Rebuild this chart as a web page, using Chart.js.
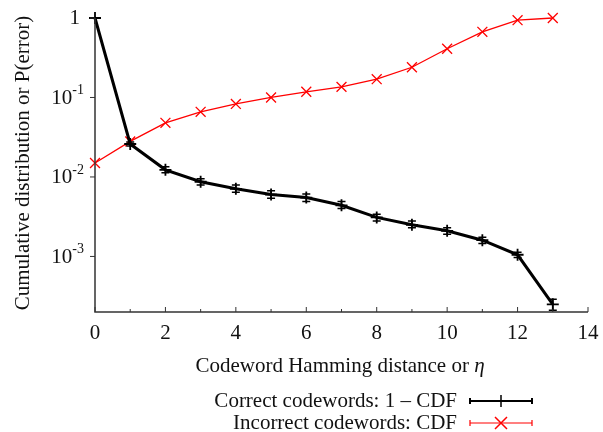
<!DOCTYPE html>
<html>
<head>
<meta charset="utf-8">
<script src="https://cdn.jsdelivr.net/npm/chart.js@4/dist/chart.umd.min.js"></script>
<style>
  html, body { margin: 0; padding: 0; background: #fff; }
  canvas { display: block; }
</style>
</head>
<body>
<canvas id="myChart" width="603" height="432"></canvas>
<script>
const distances = [0, 1, 2, 3, 4, 5, 6, 7, 8, 9, 10, 11, 12, 13];
// correct codewords: 1 - CDF, with error bar ends
const correct_vals = [1, 0.026, 0.0123, 0.0087, 0.0071, 0.006, 0.0055, 0.0044, 0.0031, 0.0025, 0.0021, 0.0016, 0.00105, 0.00025];
const correct_low = [1, 0.0245, 0.0113, 0.0079, 0.0064, 0.0054, 0.0049, 0.0040, 0.0028, 0.0023, 0.0019, 0.00145, 0.00097, 0.00021];
const correct_high = [1, 0.0275, 0.0134, 0.0095, 0.0079, 0.0067, 0.0061, 0.0049, 0.0034, 0.0028, 0.0023, 0.00175, 0.00113, 0.00029];
// incorrect codewords: CDF
const incorrect_vals = [0.015, 0.028, 0.048, 0.066, 0.083, 0.1, 0.118, 0.136, 0.17, 0.24, 0.41, 0.67, 0.94, 1.0];

const x_ticks = [0, 2, 4, 6, 8, 10, 12, 14];
const y_ticks = [1, 0.1, 0.01, 0.001];
const y_tick_base = ['1', '10', '10', '10'];
const y_tick_exp = ['', '-1', '-2', '-3'];

const legend_labels = ['Correct codewords: 1 \u2013 CDF', 'Incorrect codewords: CDF'];

const serif = '"Liberation Serif", "DejaVu Serif", serif';
const font_main = '21px ' + serif;
const axis_color = '#333';

const toPoints = (vals) => distances.map((d, i) => ({ x: d, y: vals[i] }));

// error bars for the black series
const errorBars = {
  id: 'errorBars',
  afterDatasetsDraw(chart) {
    const { ctx, scales: { x, y } } = chart;
    ctx.save();
    ctx.strokeStyle = '#000';
    ctx.lineWidth = 1.5;
    distances.forEach((d, i) => {
      if (correct_low[i] === correct_high[i]) return;
      const px = x.getPixelForValue(d);
      const lo = y.getPixelForValue(correct_low[i]);
      const hi = y.getPixelForValue(correct_high[i]);
      ctx.beginPath();
      ctx.moveTo(px, lo); ctx.lineTo(px, hi);
      ctx.moveTo(px - 4, lo); ctx.lineTo(px + 4, lo);
      ctx.moveTo(px - 4, hi); ctx.lineTo(px + 4, hi);
      ctx.stroke();
    });
    ctx.restore();
  }
};

// axes, tick labels, titles and legend
const decorations = {
  id: 'decorations',
  afterDraw(chart) {
    const { ctx, chartArea: a, scales: { x, y } } = chart;
    ctx.save();

    // axis lines
    ctx.strokeStyle = axis_color;
    ctx.lineWidth = 1.5;
    ctx.beginPath();
    ctx.moveTo(a.left, a.top);
    ctx.lineTo(a.left, a.bottom);
    ctx.lineTo(a.right, a.bottom);
    ctx.stroke();

    // x ticks pointing in
    ctx.lineWidth = 1;
    for (let v = 0; v <= 14; v++) {
      const px = x.getPixelForValue(v);
      const len = v % 2 === 0 ? 5 : 3;
      ctx.beginPath();
      ctx.moveTo(px, a.bottom);
      ctx.lineTo(px, a.bottom - len);
      ctx.stroke();
    }
    // y ticks pointing out
    y_ticks.forEach(v => {
      const py = y.getPixelForValue(v);
      ctx.beginPath();
      ctx.moveTo(a.left - 5, py);
      ctx.lineTo(a.left, py);
      ctx.stroke();
    });

    ctx.fillStyle = '#111';
    // x tick labels
    ctx.font = font_main;
    ctx.textAlign = 'center';
    ctx.textBaseline = 'middle';
    x_ticks.forEach(v => ctx.fillText(String(v), x.getPixelForValue(v), 333));

    // y tick labels with superscripts
    y_ticks.forEach((v, i) => {
      const py = y.getPixelForValue(v);
      const right = 84;
      ctx.textBaseline = 'middle';
      ctx.textAlign = 'right';
      if (y_tick_exp[i] === '') {
        ctx.font = font_main;
        ctx.fillText(y_tick_base[i], right - 4, py);
        return;
      }
      ctx.font = '14px ' + serif;
      const expW = ctx.measureText(y_tick_exp[i]).width;
      ctx.fillText(y_tick_exp[i], right, py - 7);
      ctx.font = font_main;
      ctx.fillText(y_tick_base[i], right - expW, py + 1);
    });

    // x title with italic eta
    ctx.textBaseline = 'middle';
    ctx.textAlign = 'left';
    const xt = 'Codeword Hamming distance or ';
    ctx.font = 'italic 21px ' + serif;
    const etaW = ctx.measureText('\u03b7').width;
    ctx.font = font_main;
    const xtW = ctx.measureText(xt).width;
    const xs = 340 - (xtW + etaW) / 2;
    ctx.fillText(xt, xs, 366);
    ctx.font = 'italic 21px ' + serif;
    ctx.fillText('\u03b7', xs + xtW, 366);

    // y title
    ctx.save();
    ctx.translate(23, 163);
    ctx.rotate(-Math.PI / 2);
    ctx.textAlign = 'center';
    ctx.font = font_main;
    ctx.fillText('Cumulative distribution or P(error)', 0, 0);
    ctx.restore();

    // legend
    const rows = [
      { y: 401, color: '#000', width: 2, style: 'cross' },
      { y: 423, color: '#ff0000', width: 1.2, style: 'crossRot' }
    ];
    rows.forEach((r, i) => {
      ctx.fillStyle = '#111';
      ctx.textAlign = 'right';
      ctx.textBaseline = 'middle';
      ctx.font = font_main;
      ctx.fillText(legend_labels[i], 457, r.y);
      ctx.strokeStyle = r.color;
      ctx.lineWidth = r.width;
      ctx.beginPath();
      ctx.moveTo(470, r.y); ctx.lineTo(532, r.y);
      ctx.moveTo(470, r.y - 3); ctx.lineTo(470, r.y + 3);
      ctx.moveTo(532, r.y - 3); ctx.lineTo(532, r.y + 3);
      ctx.stroke();
      ctx.lineWidth = 1.5;
      ctx.beginPath();
      if (r.style === 'cross') {
        ctx.moveTo(501, r.y - 6); ctx.lineTo(501, r.y + 6);
        ctx.moveTo(496, r.y); ctx.lineTo(506, r.y);
      } else {
        ctx.moveTo(495, r.y - 6); ctx.lineTo(507, r.y + 6);
        ctx.moveTo(507, r.y - 6); ctx.lineTo(495, r.y + 6);
      }
      ctx.stroke();
    });

    ctx.restore();
  }
};

new Chart(document.getElementById('myChart'), {
  type: 'line',
  data: {
    datasets: [
      {
        label: legend_labels[0],
        data: toPoints(correct_vals),
        borderColor: '#000',
        backgroundColor: '#000',
        borderWidth: 3,
        pointStyle: 'cross',
        pointRadius: 6,
        pointBorderWidth: 1.8,
        tension: 0,
        clip: false
      },
      {
        label: legend_labels[1],
        data: toPoints(incorrect_vals),
        borderColor: '#ff0000',
        backgroundColor: '#ff0000',
        borderWidth: 1.3,
        pointStyle: 'crossRot',
        pointRadius: 7,
        pointBorderWidth: 1.3,
        tension: 0,
        clip: false
      }
    ]
  },
  options: {
    responsive: false,
    animation: false,
    layout: { padding: { left: 95, top: 18, right: 15, bottom: 120 } },
    plugins: {
      legend: { display: false },
      tooltip: { enabled: false }
    },
    scales: {
      x: {
        type: 'linear',
        display: false,
        min: 0,
        max: 14
      },
      y: {
        type: 'logarithmic',
        display: false,
        min: 0.0002,
        max: 1
      }
    }
  },
  plugins: [errorBars, decorations]
});
</script>
</body>
</html>
